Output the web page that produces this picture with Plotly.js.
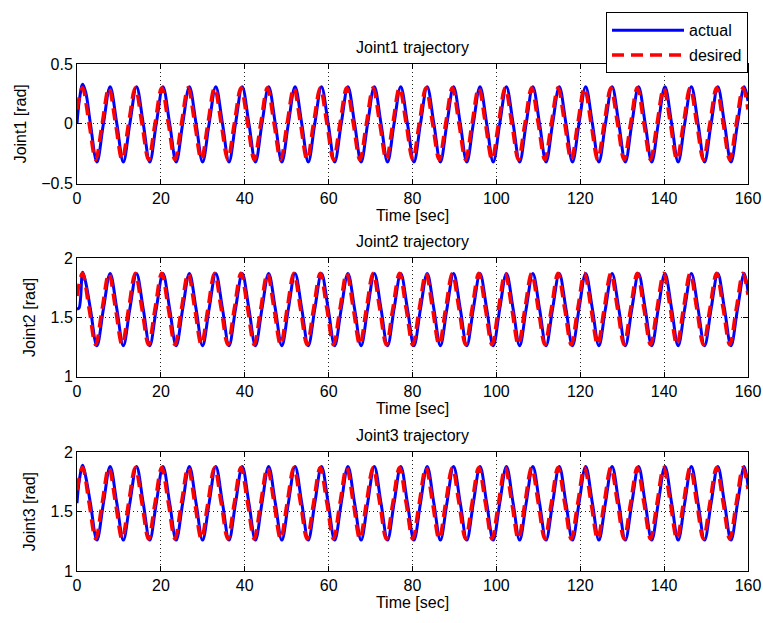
<!DOCTYPE html>
<html>
<head>
<meta charset="utf-8">
<script src="https://cdn.plot.ly/plotly-3.0.1.min.js"></script>
<style>html,body{margin:0;padding:0;background:#fff}#chart{width:763px;height:623px}</style>
</head>
<body>
<div id="chart"></div>
<script>
// Time samples (sec): start, peaks/troughs and mid-crossings, end
const tDes = [0, 1.3, 2.9, 4.45, 6.0, 7.6, 9.2, 10.75, 12.3, 13.9, 15.5, 17.05, 18.6, 20.2, 21.8, 23.35, 24.9, 26.5, 28.1, 29.65, 31.2, 32.8, 34.4, 35.95, 37.5, 39.1, 40.7, 42.25, 43.8, 45.4, 47.0, 48.55, 50.1, 51.7, 53.3, 54.85, 56.4, 58.0, 59.6, 61.15, 62.7, 64.3, 65.9, 67.45, 69.0, 70.6, 72.2, 73.75, 75.3, 76.9, 78.5, 80.05, 81.6, 83.2, 84.8, 86.35, 87.9, 89.5, 91.1, 92.65, 94.2, 95.8, 97.4, 98.95, 100.5, 102.1, 103.7, 105.25, 106.8, 108.4, 110.0, 111.55, 113.1, 114.7, 116.3, 117.85, 119.4, 121.0, 122.6, 124.15, 125.7, 127.3, 128.9, 130.45, 132.0, 133.6, 135.2, 136.75, 138.3, 139.9, 141.5, 143.05, 144.6, 146.2, 147.8, 149.35, 150.9, 152.5, 154.1, 155.65, 157.2, 158.8, 160];

const tAct = [0, 0.5, 1.35, 2.1, 3.2, 4.75, 6.3, 7.9, 9.5, 11.05, 12.6, 14.2, 15.8, 17.35, 18.9, 20.5, 22.1, 23.65, 25.2, 26.8, 28.4, 29.95, 31.5, 33.1, 34.7, 36.25, 37.8, 39.4, 41.0, 42.55, 44.1, 45.7, 47.3, 48.85, 50.4, 52.0, 53.6, 55.15, 56.7, 58.3, 59.9, 61.45, 63.0, 64.6, 66.2, 67.75, 69.3, 70.9, 72.5, 74.05, 75.6, 77.2, 78.8, 80.35, 81.9, 83.5, 85.1, 86.65, 88.2, 89.8, 91.4, 92.95, 94.5, 96.1, 97.7, 99.25, 100.8, 102.4, 104.0, 105.55, 107.1, 108.7, 110.3, 111.85, 113.4, 115.0, 116.6, 118.15, 119.7, 121.3, 122.9, 124.45, 126.0, 127.6, 129.2, 130.75, 132.3, 133.9, 135.5, 137.05, 138.6, 140.2, 141.8, 143.35, 144.9, 146.5, 148.1, 149.65, 151.2, 152.8, 154.4, 155.95, 157.5, 159.1, 160];

// Joint 1 (rad)
const joint1Des = [0.12,
 0.3,0,-0.3,0, 0.3,0,-0.3,0, 0.3,0,-0.3,0, 0.3,0,-0.3,0, 0.3,0,-0.3,0,
 0.3,0,-0.3,0, 0.3,0,-0.3,0, 0.3,0,-0.3,0, 0.3,0,-0.3,0, 0.3,0,-0.3,0,
 0.3,0,-0.3,0, 0.3,0,-0.3,0, 0.3,0,-0.3,0, 0.3,0,-0.3,0, 0.3,0,-0.3,0,
 0.3,0,-0.3,0, 0.3,0,-0.3,0, 0.3,0,-0.3,0, 0.3,0,-0.3,0, 0.3,0,-0.3,0,
 0.3,0,-0.3,0, 0.3,0,-0.3,0, 0.3,0,-0.3,0, 0.3,0,-0.3,0, 0.3,0,-0.3,0,
 0.3, 0.12];
const joint1Act = [0.0, 0.18, 0.33, 0.26,
 0,-0.32,0,0.31, 0,-0.32,0,0.31, 0,-0.32,0,0.31, 0,-0.32,0,0.31, 0,-0.32,0,0.31,
 0,-0.32,0,0.31, 0,-0.32,0,0.31, 0,-0.32,0,0.31, 0,-0.32,0,0.31, 0,-0.32,0,0.31,
 0,-0.32,0,0.31, 0,-0.32,0,0.31, 0,-0.32,0,0.31, 0,-0.32,0,0.31, 0,-0.32,0,0.31,
 0,-0.32,0,0.31, 0,-0.32,0,0.31, 0,-0.32,0,0.31, 0,-0.32,0,0.31, 0,-0.32,0,0.31,
 0,-0.32,0,0.31, 0,-0.32,0,0.31, 0,-0.32,0,0.31, 0,-0.32,0,0.31, 0,-0.32,0,0.31,
 0.19];

// Joint 2 (rad)
const joint2Des = [1.68,
 1.87,1.57,1.27,1.57, 1.87,1.57,1.27,1.57, 1.87,1.57,1.27,1.57, 1.87,1.57,1.27,1.57, 1.87,1.57,1.27,1.57,
 1.87,1.57,1.27,1.57, 1.87,1.57,1.27,1.57, 1.87,1.57,1.27,1.57, 1.87,1.57,1.27,1.57, 1.87,1.57,1.27,1.57,
 1.87,1.57,1.27,1.57, 1.87,1.57,1.27,1.57, 1.87,1.57,1.27,1.57, 1.87,1.57,1.27,1.57, 1.87,1.57,1.27,1.57,
 1.87,1.57,1.27,1.57, 1.87,1.57,1.27,1.57, 1.87,1.57,1.27,1.57, 1.87,1.57,1.27,1.57, 1.87,1.57,1.27,1.57,
 1.87,1.57,1.27,1.57, 1.87,1.57,1.27,1.57, 1.87,1.57,1.27,1.57, 1.87,1.57,1.27,1.57, 1.87,1.57,1.27,1.57,
 1.87, 1.69];
const joint2Act = [1.57, 1.58, 1.88, 1.79,
 1.57,1.26,1.57,1.87, 1.57,1.26,1.57,1.87, 1.57,1.26,1.57,1.87, 1.57,1.26,1.57,1.87, 1.57,1.26,1.57,1.87,
 1.57,1.26,1.57,1.87, 1.57,1.26,1.57,1.87, 1.57,1.26,1.57,1.87, 1.57,1.26,1.57,1.87, 1.57,1.26,1.57,1.87,
 1.57,1.26,1.57,1.87, 1.57,1.26,1.57,1.87, 1.57,1.26,1.57,1.87, 1.57,1.26,1.57,1.87, 1.57,1.26,1.57,1.87,
 1.57,1.26,1.57,1.87, 1.57,1.26,1.57,1.87, 1.57,1.26,1.57,1.87, 1.57,1.26,1.57,1.87, 1.57,1.26,1.57,1.87,
 1.57,1.26,1.57,1.87, 1.57,1.26,1.57,1.87, 1.57,1.26,1.57,1.87, 1.57,1.26,1.57,1.87, 1.57,1.26,1.57,1.87,
 1.72];

// Joint 3 (rad)
const joint3Des = [1.68,
 1.87,1.57,1.27,1.57, 1.87,1.57,1.27,1.57, 1.87,1.57,1.27,1.57, 1.87,1.57,1.27,1.57, 1.87,1.57,1.27,1.57,
 1.87,1.57,1.27,1.57, 1.87,1.57,1.27,1.57, 1.87,1.57,1.27,1.57, 1.87,1.57,1.27,1.57, 1.87,1.57,1.27,1.57,
 1.87,1.57,1.27,1.57, 1.87,1.57,1.27,1.57, 1.87,1.57,1.27,1.57, 1.87,1.57,1.27,1.57, 1.87,1.57,1.27,1.57,
 1.87,1.57,1.27,1.57, 1.87,1.57,1.27,1.57, 1.87,1.57,1.27,1.57, 1.87,1.57,1.27,1.57, 1.87,1.57,1.27,1.57,
 1.87,1.57,1.27,1.57, 1.87,1.57,1.27,1.57, 1.87,1.57,1.27,1.57, 1.87,1.57,1.27,1.57, 1.87,1.57,1.27,1.57,
 1.87, 1.69];
const joint3Act = [1.57, 1.75, 1.89, 1.79,
 1.57,1.26,1.57,1.88, 1.57,1.26,1.57,1.88, 1.57,1.26,1.57,1.88, 1.57,1.26,1.57,1.88, 1.57,1.26,1.57,1.88,
 1.57,1.26,1.57,1.88, 1.57,1.26,1.57,1.88, 1.57,1.26,1.57,1.88, 1.57,1.26,1.57,1.88, 1.57,1.26,1.57,1.88,
 1.57,1.26,1.57,1.88, 1.57,1.26,1.57,1.88, 1.57,1.26,1.57,1.88, 1.57,1.26,1.57,1.88, 1.57,1.26,1.57,1.88,
 1.57,1.26,1.57,1.88, 1.57,1.26,1.57,1.88, 1.57,1.26,1.57,1.88, 1.57,1.26,1.57,1.88, 1.57,1.26,1.57,1.88,
 1.57,1.26,1.57,1.88, 1.57,1.26,1.57,1.88, 1.57,1.26,1.57,1.88, 1.57,1.26,1.57,1.88, 1.57,1.26,1.57,1.88,
 1.72];

const seriesNames = ['actual', 'desired'];
const xTickVals = [0, 20, 40, 60, 80, 100, 120, 140, 160];
const panelTitles = ['Joint1 trajectory', 'Joint2 trajectory', 'Joint3 trajectory'];
const yTitles = ['Joint1 [rad]', 'Joint2 [rad]', 'Joint3 [rad]'];
const xTitle = 'Time [sec]';

const FONT = {family: '"Liberation Sans", Arial, Helvetica, sans-serif', size: 16, color: '#000'};

const actStyle = {color: '#0000ff', width: 3, shape: 'spline', smoothing: 1};
const desStyle = {color: '#ff0000', width: 3.6, dash: '12px,7px', shape: 'spline', smoothing: 1};

const acts = [joint1Act, joint2Act, joint3Act];
const dess = [joint1Des, joint2Des, joint3Des];
const traces = [];
for (let i = 0; i < 3; i++) {
  const ax = i === 0 ? '' : String(i + 1);
  traces.push({x: tAct, y: acts[i], type: 'scatter', mode: 'lines', name: seriesNames[0],
    line: actStyle, xaxis: 'x' + ax, yaxis: 'y' + ax, showlegend: i === 0, legendgroup: 'a'});
  traces.push({x: tDes, y: dess[i], type: 'scatter', mode: 'lines', name: seriesNames[1],
    line: desStyle, xaxis: 'x' + ax, yaxis: 'y' + ax, showlegend: i === 0, legendgroup: 'd'});
}

function xAxis(anchor) {
  return {
    anchor: anchor, domain: [0, 1], range: [0, 160], tickvals: xTickVals, ticktext: xTickVals.map(String),
    showline: true, linecolor: '#000', linewidth: 1, mirror: 'ticks',
    ticks: 'inside', ticklen: 5, tickcolor: '#000', tickwidth: 1,
    showgrid: true, gridcolor: '#222', gridwidth: 1, griddash: '1px,3px',
    zeroline: false, tickfont: FONT,
    title: {text: xTitle, font: FONT, standoff: 2}
  };
}
function yAxis(anchor, dom, rng, i) {
  return {
    anchor: anchor, domain: dom, range: rng, dtick: 0.5, tick0: 0,
    showline: true, linecolor: '#000', linewidth: 1, mirror: 'ticks',
    ticks: 'inside', ticklen: 5, tickcolor: '#000', tickwidth: 1,
    showgrid: true, gridcolor: '#222', gridwidth: 1, griddash: '1px,3px',
    zeroline: false, tickfont: FONT,
    title: {text: yTitles[i], font: FONT, standoff: 10}
  };
}

const annotations = panelTitles.map((t, i) => {
  const ax = i === 0 ? '' : String(i + 1);
  return {text: t, xref: 'x' + ax + ' domain', yref: 'y' + ax + ' domain', x: 0.5, y: 1,
    xanchor: 'center', yanchor: 'bottom', yshift: 6, showarrow: false, font: FONT};
});

const layout = {
  width: 763, height: 623,
  margin: {l: 77, r: 15, t: 62, b: 52, pad: 0},
  paper_bgcolor: '#fff', plot_bgcolor: '#fff',
  font: FONT,
  xaxis: xAxis('y'), yaxis: yAxis('x', [0.7642, 1], [-0.5, 0.5], 0),
  xaxis2: xAxis('y2'), yaxis2: yAxis('x2', [0.3831, 0.6175], [1, 2], 1),
  xaxis3: xAxis('y3'), yaxis3: yAxis('x3', [0, 0.2344], [1, 2], 2),
  annotations: annotations,
  showlegend: true,
  legend: {x: 1, xanchor: 'right', y: 1.102, yanchor: 'top', bgcolor: '#fff',
    bordercolor: '#000', borderwidth: 1, font: FONT, traceorder: 'grouped', tracegroupgap: 1,
    itemwidth: 72}
};

Plotly.newPlot('chart', traces, layout, {displayModeBar: false, staticPlot: true});
</script>
</body>
</html>
